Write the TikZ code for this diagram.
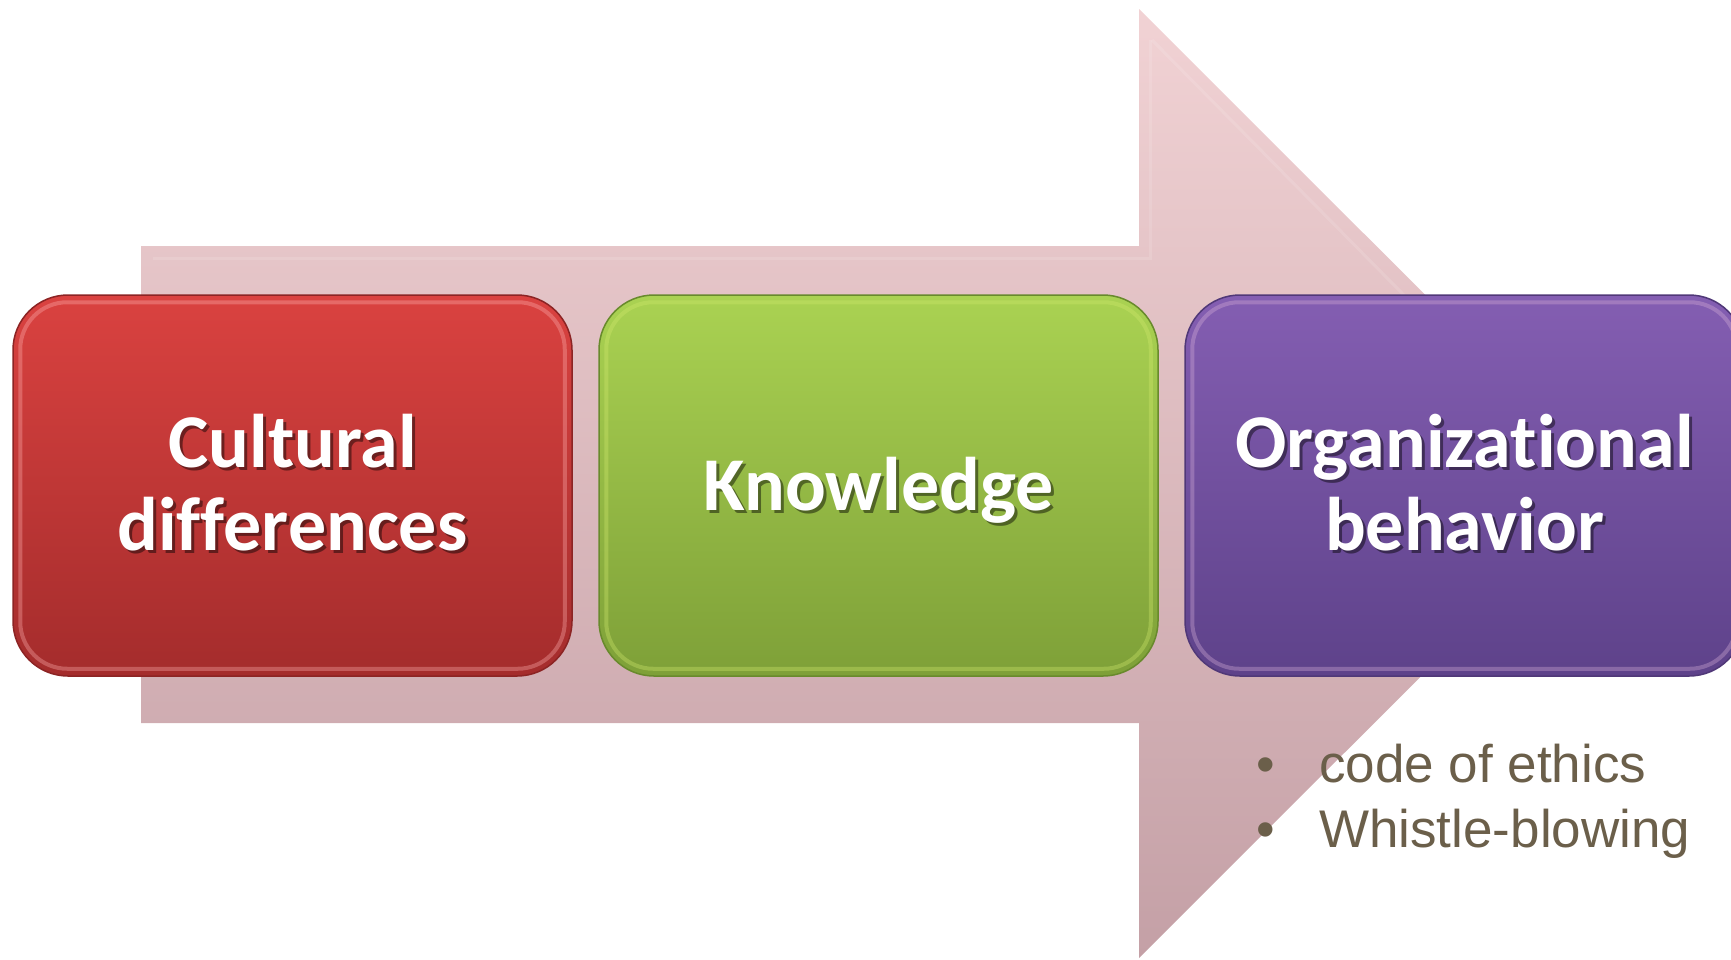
\documentclass[tikz,border=0pt]{standalone}
\usepackage{fontspec}
\newfontfamily\boxfont{Carlito}[Ligatures=NoCommon]
\newfontfamily\listfont{Liberation Sans}
\definecolor{arrowtop}{RGB}{241,210,212}
\definecolor{arrowbot}{RGB}{196,160,166}
\definecolor{redtop}{RGB}{218,66,64}
\definecolor{redbot}{RGB}{164,44,44}
\definecolor{redline}{RGB}{140,36,36}
\definecolor{greentop}{RGB}{170,210,82}
\definecolor{greenbot}{RGB}{126,160,56}
\definecolor{greenline}{RGB}{104,138,44}
\definecolor{purtop}{RGB}{132,94,178}
\definecolor{purbot}{RGB}{94,66,138}
\definecolor{purline}{RGB}{80,56,120}
\definecolor{listcol}{RGB}{107,95,74}
\tikzset{
  box/.style={rounded corners=55pt, minimum width=559pt, minimum height=381pt, inner sep=0pt, line width=1.5pt},
  btext/.style={anchor=base, text=white, inner sep=0pt, font=\boxfont\bfseries\fontsize{76}{83}\selectfont},
  bshadow/.style={btext, text=black, text opacity=0.45},
  ltext/.style={inner sep=0pt, text=listcol, font=\listfont\fontsize{53}{65}\selectfont},
  gloss/.style={line width=4pt, rounded corners=47pt, draw opacity=0.35}
}
\newcommand\boxtext[4]{%
  \node[bshadow] (#1s) at ([xshift=3pt,yshift=-3pt]#2,#3) {#4};
  \node[btext] (#1) at (#2,#3) {#4};}
\begin{document}
\begin{tikzpicture}[x=1pt,y=-1pt]
\useasboundingbox (0,0) rectangle (1731,959);
\clip (0,0) rectangle (1731,959);
% big arrow
\path[top color=arrowtop, bottom color=arrowbot]
  (141,246) -- (1139,246) -- (1139,9) -- (1614,483.5) -- (1139,958) -- (1139,723) -- (141,723) -- cycle;
\draw[white, opacity=0.12, line width=3pt]
  (1150,40) -- (1150,258) -- (153,258);
\draw[white, opacity=0.12, line width=3pt]
  (1152,40) -- (1590,483.5);
% boxes
\node[box, top color=redtop, bottom color=redbot, draw=redline] (red) at (292.5,485.5) {};
\node[box, top color=greentop, bottom color=greenbot, draw=greenline] (green) at (878.5,485.5) {};
\node[box, top color=purtop, bottom color=purbot, draw=purline] (purple) at (1464.5,485.5) {};
\draw[gloss, draw=red!30!white] ([xshift=8pt,yshift=8pt]red.south west) rectangle ([xshift=-8pt,yshift=-8pt]red.north east);
\draw[gloss, draw=yellow!70!green!60!white] ([xshift=8pt,yshift=8pt]green.south west) rectangle ([xshift=-8pt,yshift=-8pt]green.north east);
\draw[gloss, draw=violet!30!white] ([xshift=8pt,yshift=8pt]purple.south west) rectangle ([xshift=-8pt,yshift=-8pt]purple.north east);
% box texts
\boxtext{t1a}{292.5}{467}{Cultural}
\boxtext{t1b}{292.5}{550}{differences}
\boxtext{t2}{878.5}{510}{Knowledge}
\boxtext{t3a}{1464.5}{467}{Organizational}
\boxtext{t3b}{1464.5}{550}{behavior}
% bullet list
\node[ltext, anchor=base] (d1) at (1266,782) {•};
\node[ltext, anchor=base west] (l1) at (1319,782) {code of ethics};
\node[ltext, anchor=base] (d2) at (1266,847) {•};
\node[ltext, anchor=base west] (l2) at (1319,847) {Whistle-blowing};
\end{tikzpicture}
\end{document}
